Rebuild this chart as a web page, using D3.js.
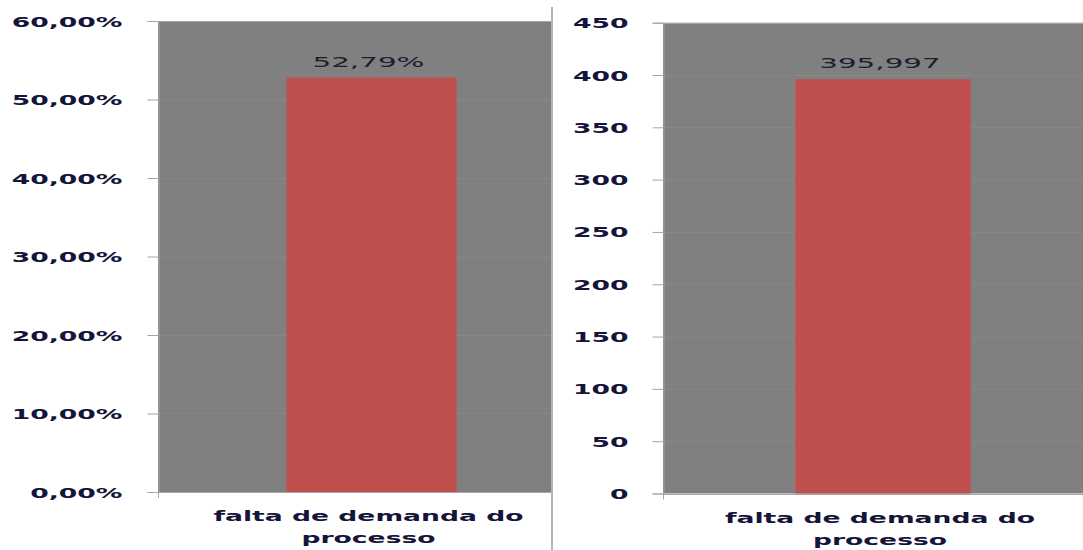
<!DOCTYPE html>
<html>
<head>
<meta charset="utf-8">
<script src="https://cdn.jsdelivr.net/npm/d3@7"></script>
<style>
  html, body { margin: 0; padding: 0; background: #fff; }
  svg { display: block; }
  text { font-family: "DejaVu Sans", Verdana, sans-serif; }
</style>
</head>
<body>
<svg id="chart" width="1083" height="550"></svg>
<script>
// Chart data
const categories = ["falta de demanda do processo"];
const categoryLines = [["falta de demanda do", "processo"]];
const shareValues = [0.5279];       // left panel: share of occurrences
const countValues = [395.997];      // right panel: quantity
const shareTicks = [0, 0.1, 0.2, 0.3, 0.4, 0.5, 0.6];
const countTicks = [0, 50, 100, 150, 200, 250, 300, 350, 400, 450];

const ptBR = d3.formatLocale({ decimal: ",", thousands: ".", grouping: [3], currency: ["R$", ""] });

const svg = d3.select("#chart");
const STRETCH = 1.9;          // wide lettering used throughout
const textColor = "#15153a";

function drawPanel(cfg) {
  const g = svg.append("g");
  const clipId = "clip-" + cfg.id;
  svg.append("defs").append("clipPath").attr("id", clipId)
    .append("rect").attr("x", cfg.x0).attr("y", 0)
    .attr("width", cfg.clipRight - cfg.x0).attr("height", 550);

  const x = d3.scaleBand().domain(categories).range([cfg.x0, cfg.x1])
    .paddingInner(0.43).paddingOuter(0.43);
  const y = d3.scaleLinear().domain(cfg.domain).range([cfg.yBottom, cfg.yTop]);

  const plot = g.append("g").attr("clip-path", `url(#${clipId})`);
  // plot background
  plot.append("rect")
    .attr("x", cfg.x0).attr("y", y(cfg.domain[1]))
    .attr("width", cfg.x1 - cfg.x0).attr("height", y(cfg.domain[0]) - y(cfg.domain[1]))
    .attr("fill", "#808080");
  // gridlines
  plot.selectAll("line.grid").data(cfg.ticks.slice(1, -1)).join("line")
    .attr("class", "grid")
    .attr("x1", cfg.x0).attr("x2", cfg.x1)
    .attr("y1", d => Math.round(y(d)) + 0.5).attr("y2", d => Math.round(y(d)) + 0.5)
    .attr("stroke", "#878787").attr("stroke-width", 1);
  plot.append("line")
    .attr("x1", cfg.x0).attr("x2", cfg.x1)
    .attr("y1", Math.round(y(cfg.domain[1])) + 0.5).attr("y2", Math.round(y(cfg.domain[1])) + 0.5)
    .attr("stroke", "#a6a6a6");
  // bars
  plot.selectAll("rect.bar").data(cfg.values).join("rect")
    .attr("class", "bar")
    .attr("x", (d, i) => x(categories[i]))
    .attr("width", x.bandwidth())
    .attr("y", d => y(d))
    .attr("height", d => y(0) - y(d))
    .attr("fill", "#c0504d");
  // data labels
  plot.selectAll("text.value").data(cfg.values).join("text")
    .attr("class", "value")
    .attr("transform", (d, i) => `translate(${x(categories[i]) + x.bandwidth() / 2 - 3},${y(d) - 11}) scale(2.1,1)`)
    .attr("text-anchor", "middle")
    .attr("font-size", 14)
    .attr("fill", "#1c1c2c")
    .text(cfg.labelFormat);

  // value axis
  const axis = d3.axisLeft(y).tickValues(cfg.ticks).tickSize(11).tickPadding(0).tickFormat(cfg.tickFormat);
  const ag = g.append("g").attr("transform", `translate(${cfg.x0 + 0.5},0)`).call(axis);
  ag.select(".domain").attr("stroke", "#a6a6a6");
  ag.selectAll(".tick line").attr("stroke", "#a6a6a6");
  ag.selectAll(".tick text")
    .attr("x", null).attr("dy", null)
    .attr("transform", `translate(${cfg.labelRight - cfg.x0},5) scale(${STRETCH},1)`)
    .attr("font-size", 14).attr("font-weight", "bold")
    .attr("fill", textColor).attr("text-anchor", "end");

  // category axis line with tick
  g.append("line")
    .attr("x1", cfg.x0).attr("x2", cfg.clipRight)
    .attr("y1", Math.round(y(0)) + 0.5).attr("y2", Math.round(y(0)) + 0.5)
    .attr("stroke", "#a6a6a6");
  g.append("line")
    .attr("x1", cfg.x0 + 0.5).attr("x2", cfg.x0 + 0.5)
    .attr("y1", y(0)).attr("y2", y(0) + 6)
    .attr("stroke", "#a6a6a6");

  // category label
  categories.forEach((c, i) => {
    const t = g.append("text")
      .attr("transform", `translate(${x(c) + x.bandwidth() / 2 - 3},${cfg.catY}) scale(${STRETCH},1)`)
      .attr("text-anchor", "middle").attr("font-size", 14).attr("font-weight", "bold")
      .attr("fill", textColor);
    categoryLines[i].forEach((line, k) => {
      t.append("tspan").attr("x", 0).attr("dy", k === 0 ? 0 : 22).text(line);
    });
  });
}

drawPanel({
  id: "share", values: shareValues, ticks: shareTicks, domain: [0, 0.6],
  x0: 158, x1: 585, clipRight: 551, yTop: 21, yBottom: 492, labelRight: 122, catY: 521,
  tickFormat: ptBR.format(".2%"), labelFormat: ptBR.format(".2%")
});

drawPanel({
  id: "count", values: countValues, ticks: countTicks, domain: [0, 450],
  x0: 663, x1: 1103, clipRight: 1083, yTop: 22.7, yBottom: 493.5, labelRight: 628, catY: 523,
  tickFormat: ptBR.format("d"), labelFormat: ptBR.format(".3f")
});

// divider between the two panels
svg.append("line")
  .attr("x1", 552).attr("x2", 552).attr("y1", 7).attr("y2", 550)
  .attr("stroke", "#b4b4b4").attr("stroke-width", 2);
</script>
</body>
</html>
